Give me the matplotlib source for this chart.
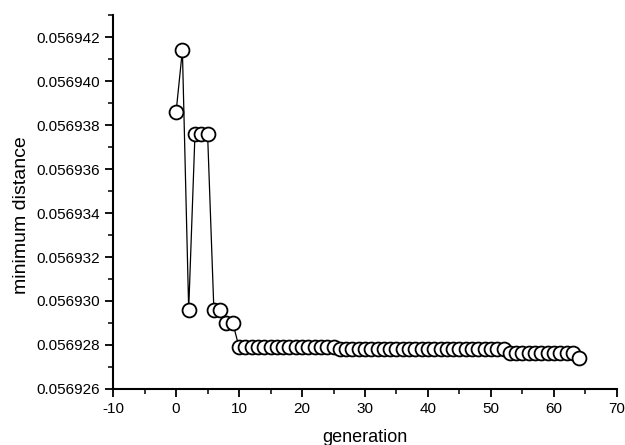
import matplotlib
matplotlib.use("Agg")
import matplotlib.pyplot as plt
from matplotlib.ticker import MultipleLocator, FormatStrFormatter

plt.rcParams["font.family"] = ["Liberation Sans", "DejaVu Sans"]
plt.rcParams["axes.unicode_minus"] = False

# minimum distance per generation
generation = list(range(65))
min_distance = (
    [0.0569386, 0.0569414, 0.0569296,
     0.0569376, 0.0569376, 0.0569376,
     0.0569296, 0.0569296, 0.0569290, 0.0569290]
    + [0.0569279] * 16      # gen 10-25
    + [0.0569278] * 27      # gen 26-52
    + [0.05692765] * 11     # gen 53-63
    + [0.0569274]           # gen 64
)

fig = plt.figure(figsize=(6.25, 4.45), dpi=100)
ax = fig.add_axes([0.181, 0.126, 0.806, 0.840])

ax.plot(generation, min_distance, color="black", lw=0.9,
        marker="o", ms=10, mfc="white", mec="black", mew=1.3)

ax.set_xlim(-10, 70)
ax.set_ylim(0.056926, 0.056943)
ax.xaxis.set_major_locator(MultipleLocator(10))
ax.xaxis.set_minor_locator(MultipleLocator(5))
ax.yaxis.set_major_locator(MultipleLocator(0.000002))
ax.yaxis.set_minor_locator(MultipleLocator(0.000001))
ax.yaxis.set_major_formatter(FormatStrFormatter("%.6f"))

for s in ("top", "right"):
    ax.spines[s].set_visible(False)
for s in ("left", "bottom"):
    ax.spines[s].set_linewidth(1.5)

ax.tick_params(which="major", direction="out", length=6, width=1.3, labelsize=11)
ax.tick_params(which="minor", direction="out", length=3.5, width=1.1)

ax.set_xlabel("generation", fontsize=13, labelpad=9)
ax.set_ylabel("minimum distance", fontsize=14)
ax.yaxis.set_label_coords(-0.165, 0.465)

fig.savefig("out.png", dpi=100)
